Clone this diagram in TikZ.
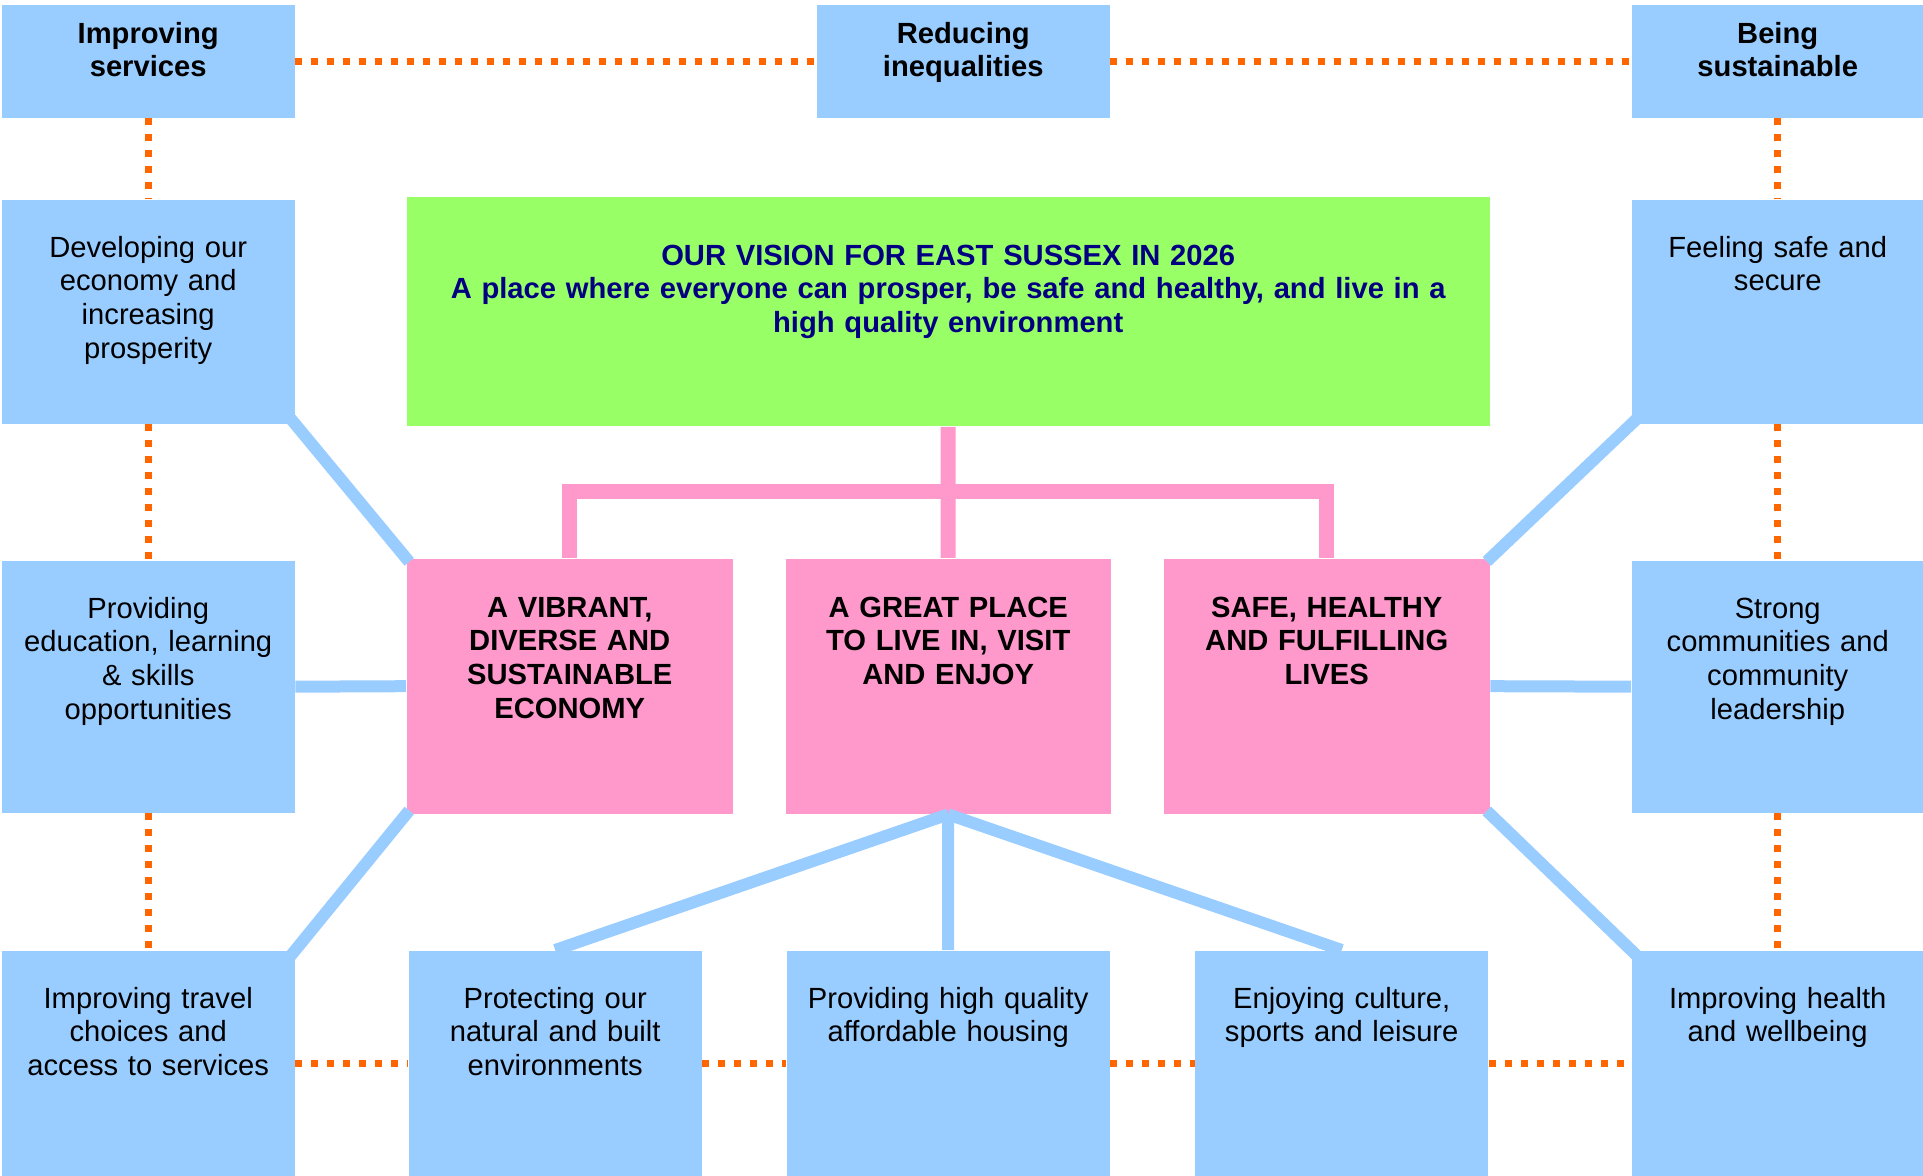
\documentclass[tikz,border=0pt]{standalone}
\usepackage{fontspec}
\setmainfont{Liberation Sans}
\usepackage{tikz}
\definecolor{skyblue}{HTML}{99CCFF}
\definecolor{limegreen}{HTML}{99FF66}
\definecolor{rosepink}{HTML}{FF99CC}
\definecolor{dotorange}{HTML}{FF6600}
\definecolor{visionnavy}{HTML}{000080}

\begin{document}
\begin{tikzpicture}[font=\fontsize{8.3}{9.6}\selectfont,
  panel/.style 2 args={anchor=north west,inner sep=0pt,align=center,minimum width=#1,text width=#1,text depth=#2},
  goal/.style={fill=skyblue,text height=0.575cm},
  theme/.style={fill=skyblue,text height=0.385cm,font=\fontsize{8.3}{9.6}\selectfont\bfseries},
  aim/.style={fill=rosepink,text height=0.585cm,font=\fontsize{8.3}{9.6}\selectfont\bfseries},
  spoke/.style={draw=skyblue,line width=0.12cm},
  slant/.style={spoke,shorten <=-0.1cm,shorten >=-0.05cm},
  trunk/.style={draw=rosepink,line width=0.15cm},
  link/.style={draw=dotorange,line width=0.07cm,dash pattern=on 0.07cm off 0.09cm}]
\useasboundingbox (0,0) rectangle (19.23,-11.76);
% top row
\node[theme,panel={2.93cm}{0.745cm}] (imp) at (0.01,-0.04) {Improving\\services};
\node[theme,panel={2.93cm}{0.745cm}] (red) at (8.16,-0.04) {Reducing\\inequalities};
\node[theme,panel={2.92cm}{0.745cm}] (sus) at (16.31,-0.04) {Being\\sustainable};
% vision
\node[fill=limegreen,text height=0.685cm,text=visionnavy,font=\fontsize{8.3}{9.6}\selectfont\bfseries,panel={10.83cm}{1.61cm}] (vision) at (4.06,-1.96)
  {OUR VISION FOR EAST SUSSEX IN 2026\\A place where everyone can prosper, be safe and healthy, and live in a\\high quality environment};
% three aims
\node[aim,panel={3.26cm}{1.965cm}] (econ) at (4.06,-5.58) {A VIBRANT,\\DIVERSE AND\\SUSTAINABLE\\ECONOMY};
\node[aim,panel={3.25cm}{1.965cm}] (place) at (7.85,-5.58) {A GREAT PLACE\\TO LIVE IN, VISIT\\AND ENJOY};
\node[aim,panel={3.26cm}{1.965cm}] (lives) at (11.63,-5.58) {SAFE, HEALTHY\\AND FULFILLING\\LIVES};
% left column
\node[goal,panel={2.93cm}{1.665cm}] (dev) at (0.01,-1.99) {Developing our\\economy and\\increasing\\prosperity};
\node[goal,panel={2.93cm}{1.945cm}] (edu) at (0.01,-5.60) {Providing\\education, learning\\\& skills\\opportunities};
\node[goal,panel={2.93cm}{1.685cm}] (trv) at (0.01,-9.50) {Improving travel\\choices and\\access to services};
% right column
\node[goal,panel={2.92cm}{1.665cm}] (saf) at (16.31,-1.99) {Feeling safe and\\secure};
\node[goal,panel={2.92cm}{1.945cm}] (com) at (16.31,-5.60) {Strong\\communities and\\community\\leadership};
\node[goal,panel={2.92cm}{1.685cm}] (hlt) at (16.31,-9.50) {Improving health\\and wellbeing};
% bottom row
\node[goal,panel={2.93cm}{1.685cm}] (env) at (4.08,-9.50) {Protecting our\\natural and built\\environments};
\node[goal,panel={3.23cm}{1.685cm}] (hsg) at (7.86,-9.50) {Providing high quality\\affordable housing};
\node[goal,panel={2.93cm}{1.685cm}] (cul) at (11.945,-9.50) {Enjoying culture,\\sports and leisure};

% vision to aims
\draw[trunk] (vision.south) -- (place.north);
\draw[trunk] (econ.north) -- ++(0,0.66) -| (lives.north);

% aims to goals
\draw[slant] (dev.south east) -- (econ.north west);
\draw[spoke] (edu.east) -- (econ.west);
\draw[slant] (trv.north east) -- (econ.south west);
\draw[slant] (saf.south west) -- (lives.north east);
\draw[spoke] (com.west) -- (lives.east);
\draw[slant] (hlt.north west) -- (lives.south east);
\draw[spoke] (place.south) -- (env.north);
\draw[spoke] (place.south) -- (hsg.north);
\draw[spoke] (place.south) -- (cul.north);

% dotted frame
\draw[link] (imp.east) -- (red.west);
\draw[link] (red.east) -- (sus.west);
\draw[link] (imp.south) -- (dev.north);
\draw[link] (dev.south) -- (edu.north);
\draw[link] (edu.south) -- (trv.north);
\draw[link] (sus.south) -- (saf.north);
\draw[link] (saf.south) -- (com.north);
\draw[link] (com.south) -- (hlt.north);
\draw[link] (trv.east) -- (env.west);
\draw[link] (env.east) -- (hsg.west);
\draw[link] (hsg.east) -- (cul.west);
\draw[link] (cul.east) -- (hlt.west);
\end{tikzpicture}
\end{document}
